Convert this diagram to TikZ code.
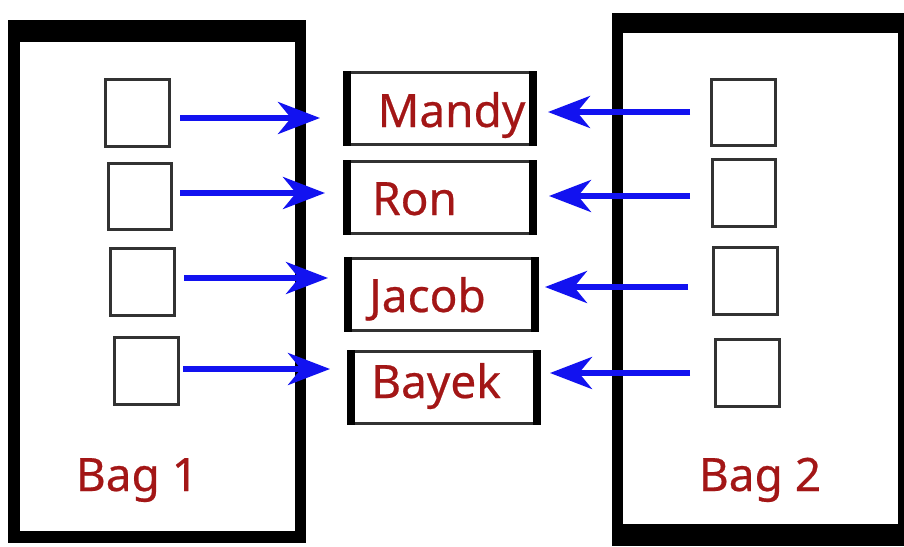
\documentclass[tikz,border=0pt]{standalone}
\usepackage{fontspec}
\setmainfont{Noto Sans}
\newfontfamily\lblfont[FakeBold=0.5]{Noto Sans}
\usetikzlibrary{arrows.meta}
\definecolor{lbl}{RGB}{163,22,22}
\definecolor{arr}{RGB}{18,18,240}
\definecolor{edge}{RGB}{50,50,50}
\begin{document}
\begin{tikzpicture}[x=1pt,y=-1pt,
  sbox/.style={draw=edge,line width=2.8pt,inner sep=0pt},
  thinedge/.style={draw=edge,line width=2.6pt},
  lbl/.style={text=lbl,font=\lblfont\fontsize{46}{50}\selectfont,inner sep=0pt},
  conn/.style={draw=arr,line width=5.5pt,-{Stealth[length=42pt,width=32pt,inset=13pt]}}]
\useasboundingbox (0,0) rectangle (904,546);
\fill[white] (0,0) rectangle (904,546);
% Bag 1
\fill[black] (8,20) rectangle (306,543);
\fill[white] (20,42) rectangle (295,531);
% Bag 2
\fill[black] (612,13) rectangle (904,546);
\fill[white] (623,33) rectangle (898,524);
% small boxes, left
\node[sbox,minimum width=64pt,minimum height=67pt] (l1) at (137.5,113) {};
\node[sbox,minimum width=63pt,minimum height=66pt] (l2) at (140,196.5) {};
\node[sbox,minimum width=64pt,minimum height=67pt] (l3) at (142.5,282) {};
\node[sbox,minimum width=64pt,minimum height=67pt] (l4) at (146.5,371) {};
% small boxes, right
\node[sbox,minimum width=64pt,minimum height=66pt] (r1) at (743.5,112.5) {};
\node[sbox,minimum width=63pt,minimum height=67pt] (r2) at (744,193) {};
\node[sbox,minimum width=64pt,minimum height=67pt] (r3) at (745.5,281) {};
\node[sbox,minimum width=64pt,minimum height=67pt] (r4) at (747.5,373) {};
% middle boxes
\foreach \n/\xa/\xb/\ya/\yb in {m1/343/537/71/146, m2/343/537/160/235, m3/344/539/257/332, m4/347/541/350/425}{
  \coordinate (\n nw) at (\xa,\ya);
  \coordinate (\n se) at (\xb,\yb);
  \draw[thinedge] (\xa+4,\ya+1.3) -- (\xb-4,\ya+1.3);
  \draw[thinedge] (\xa+4,\yb-1.3) -- (\xb-4,\yb-1.3);
  \fill[black] (\xa,\ya) rectangle (\xa+8,\yb);
  \fill[black] (\xb-8,\ya) rectangle (\xb,\yb);
}
% labels
\node[lbl,anchor=base] (t1) at (451.5,127) {Mandy};
\node[lbl,anchor=base] (t2) at (414.5,215) {Ron};
\node[lbl,anchor=base] (t3) at (427.5,312) {Jacob};
\node[lbl,anchor=base] (t4) at (436,398) {Bayek};
\node[lbl,anchor=base] (b1) at (137,491) {Bag 1};
\node[lbl,anchor=base] (b2) at (760,491) {Bag 2};
% connector end points
\coordinate (la1) at (180,118); \coordinate (lb1) at (320,118);
\coordinate (la2) at (180,193); \coordinate (lb2) at (325,193);
\coordinate (la3) at (184,278); \coordinate (lb3) at (328,278);
\coordinate (la4) at (183,369); \coordinate (lb4) at (330,369);
\coordinate (ra1) at (690,112); \coordinate (rb1) at (548,112);
\coordinate (ra2) at (690,196); \coordinate (rb2) at (549,196);
\coordinate (ra3) at (688,287); \coordinate (rb3) at (545,287);
\coordinate (ra4) at (690,373); \coordinate (rb4) at (550,373);
\foreach \i in {1,2,3,4}{
  \draw[conn] (la\i) -- (lb\i);
  \draw[conn] (ra\i) -- (rb\i);
}
\end{tikzpicture}
\end{document}
